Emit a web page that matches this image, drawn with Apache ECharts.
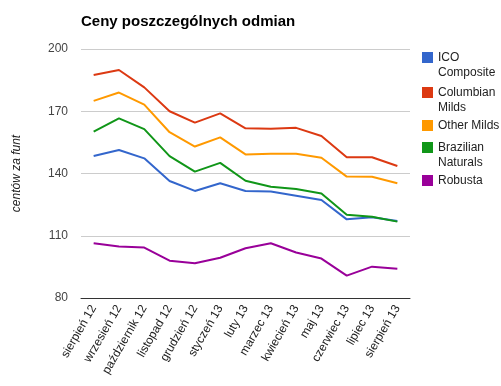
<!DOCTYPE html>
<html>
<head>
<meta charset="utf-8">
<script src="https://cdn.jsdelivr.net/npm/echarts@6/dist/echarts.min.js"></script>
<style>html,body{margin:0;padding:0;background:#fff}#c{width:501px;height:386px}</style>
</head>
<body>
<div id="c"></div>
<script>
var categories = ['sierpień 12','wrzesień 12','październik 12','listopad 12','grudzień 12','styczeń 13','luty 13','marzec 13','kwiecień 13','maj 13','czerwiec 13','lipiec 13','sierpień 13'];
var icoComposite = [148.4,151.3,147.3,136.4,131.6,135.3,131.6,131.3,129.3,127.2,117.9,118.9,117.1];
var columbianMilds = [187.5,189.9,181.5,170.0,164.5,169.0,161.8,161.6,162.0,158.1,147.8,147.8,143.6];
var otherMilds = [175.0,179.0,173.2,159.9,153.0,157.4,149.2,149.5,149.5,147.6,138.5,138.4,135.3];
var brazilianNaturals = [160.2,166.6,161.4,148.4,140.9,145.1,136.5,133.6,132.5,130.4,120.1,119.2,116.8];
var robusta = [106.4,104.8,104.3,98.0,96.7,99.4,104.0,106.4,101.9,99.0,90.8,95.1,94.1];
var seriesNames = ['ICO Composite','Columbian Milds','Other Milds','Brazilian Naturals','Robusta'];
var legendLabels = ['ICO\nComposite','Columbian\nMilds','Other Milds','Brazilian\nNaturals','Robusta'];
var yTicks = [80,110,140,170,200];

var values = [icoComposite, columbianMilds, otherMilds, brazilianNaturals, robusta];
var colors = ['#3366cc','#dc3912','#ff9900','#109618','#990099'];
var legendTops = [50,85,118,140,173];
var FONT = 'Liberation Sans, Arial, sans-serif';

var legends = seriesNames.map(function(n, i){
  var twoLine = legendLabels[i].indexOf('\n') >= 0;
  return {
    left: 422, top: legendTops[i], orient: 'vertical', padding: 0,
    data: [{name: n, icon: twoLine ? 'path://M0,0H11V11H0Z M0,26H0.01V25.99Z' : 'rect'}],
    itemWidth: 11, itemHeight: twoLine ? 26 : 11,
    formatter: function(){ return legendLabels[i]; },
    textStyle: {fontFamily: FONT, fontSize: 12, color: '#222', lineHeight: 15}
  };
});

var chart = echarts.init(document.getElementById('c'), null, {renderer: 'canvas'});
chart.setOption({
  animation: false,
  color: colors,
  title: {text: 'Ceny poszczególnych odmian', left: 81, top: 14, padding: 0,
    textStyle: {fontFamily: FONT, fontSize: 15, fontWeight: 'bold', color: '#000'}},
  legend: legends,
  grid: {left: 81, right: 91, top: 49, bottom: 88},
  xAxis: {
    type: 'category', data: categories, boundaryGap: true,
    axisLine: {lineStyle: {color: '#333', width: 1}},
    axisTick: {show: false},
    axisLabel: {rotate: 60, interval: 0, margin: 8, fontFamily: FONT, fontSize: 12, color: '#222'}
  },
  yAxis: {
    type: 'value', min: yTicks[0], max: yTicks[yTicks.length-1], interval: 30,
    name: 'centów za funt', nameLocation: 'middle', nameGap: 58,
    nameTextStyle: {fontFamily: FONT, fontSize: 12, fontStyle: 'italic', color: '#222'},
    axisLine: {show: false}, axisTick: {show: false},
    axisLabel: {margin: 13, fontFamily: FONT, fontSize: 12, color: '#444'},
    splitLine: {lineStyle: {color: '#ccc', width: 1}}
  },
  series: seriesNames.map(function(n, i){
    return {name: n, type: 'line', data: values[i], showSymbol: false, symbol: 'none',
      lineStyle: {width: 2, color: colors[i]}, itemStyle: {color: colors[i]}};
  })
});
</script>
</body>
</html>
